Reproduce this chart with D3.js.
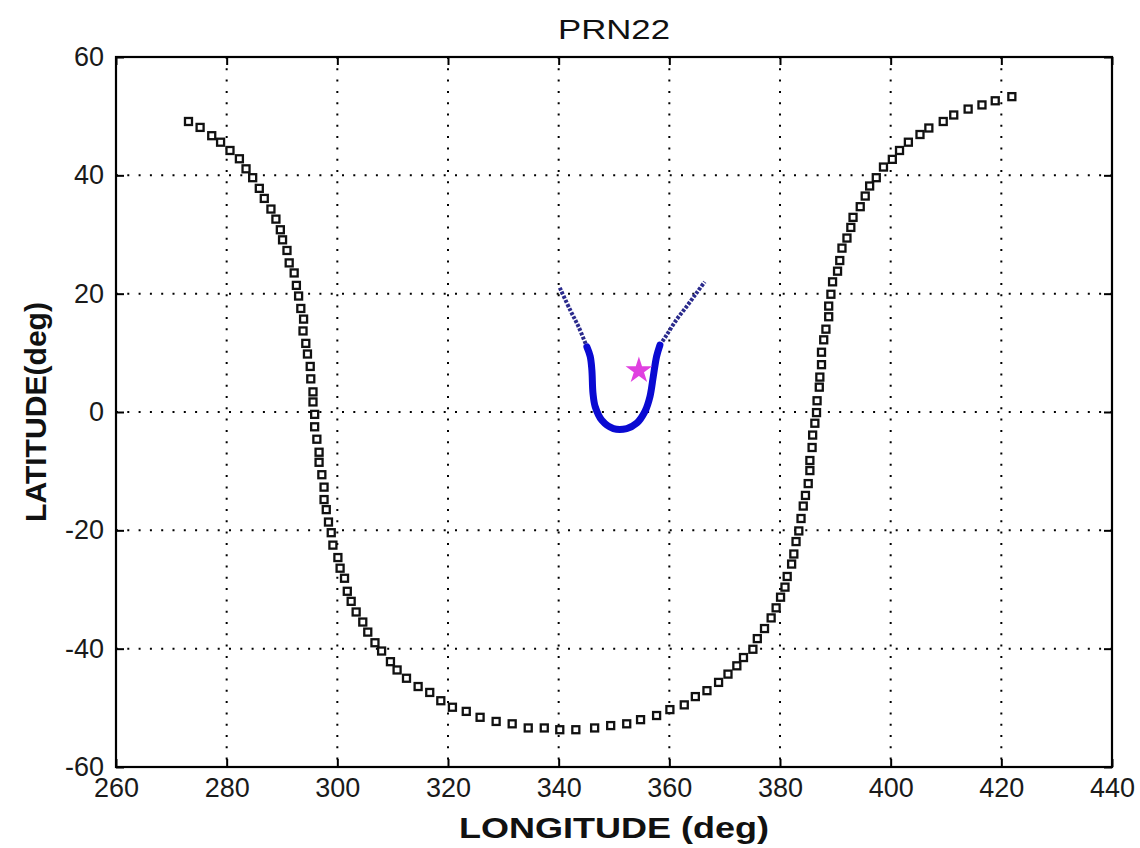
<!DOCTYPE html>
<html>
<head>
<meta charset="utf-8">
<script src="https://cdn.jsdelivr.net/npm/d3@7"></script>
<style>
    html, body { margin: 0; padding: 0; background: #fff; }
    text { font-family: "Liberation Sans", Arial, sans-serif; }
</style>
</head>
<body>
<div id="chart"></div>
<script>
var xTicks = [260, 280, 300, 320, 340, 360, 380, 400, 420, 440];
var yTicks = [-60, -40, -20, 0, 20, 40, 60];

// satellite ground track, [lon, lat]
var orbit = [
    [273.1, 49.1], [275.2, 48.1], [277.3, 46.7], [278.9, 45.6], [280.6, 44.2],
    [282.3, 42.8], [283.5, 41.1], [284.7, 39.6], [285.9, 37.8], [286.8, 36.1],
    [288.0, 34.3], [288.9, 32.6], [289.7, 30.8], [290.1, 29.1], [290.9, 27.3],
    [291.3, 25.2], [292.2, 23.5], [292.6, 21.4], [293.0, 19.6], [293.4, 17.5],
    [293.9, 15.7], [293.8, 13.7], [294.3, 11.6], [294.6, 9.8], [295.1, 7.7],
    [295.2, 5.6], [295.6, 3.4], [295.6, 1.7], [295.9, -0.4], [295.9, -2.5],
    [296.3, -4.6], [296.7, -6.8], [296.7, -8.5], [297.2, -10.6], [297.6, -12.7],
    [297.6, -14.8], [298.0, -16.5], [298.4, -18.6], [298.9, -20.4], [299.2, -22.5],
    [300.1, -24.6], [300.5, -26.4], [301.3, -28.1], [301.8, -30.3], [302.5, -32.0],
    [303.4, -33.8], [304.6, -35.5], [305.5, -37.2], [306.8, -39.0], [308.0, -40.4],
    [309.6, -42.2], [310.8, -43.6], [312.5, -45.0], [314.6, -46.4], [316.7, -47.4],
    [318.7, -48.8], [320.8, -49.9], [323.3, -50.6], [325.8, -51.6], [328.7, -52.3],
    [331.6, -52.7], [334.5, -53.4], [337.4, -53.4], [340.2, -53.7], [343.1, -53.7],
    [346.5, -53.4], [349.4, -53.0], [352.3, -52.7], [354.8, -52.0], [357.7, -51.3],
    [360.1, -50.3], [362.7, -49.5], [364.7, -48.1], [366.8, -47.1], [368.9, -45.7],
    [370.6, -44.3], [372.2, -42.9], [373.4, -41.5], [375.1, -40.1], [375.9, -38.3],
    [377.2, -36.6], [378.4, -34.8], [379.3, -33.1], [380.1, -31.3], [380.9, -29.6],
    [381.3, -27.8], [382.1, -25.7], [382.5, -24.0], [382.9, -21.9], [383.4, -20.1],
    [383.8, -18.0], [384.2, -15.9], [384.6, -14.1], [385.1, -12.1], [385.4, -9.9],
    [385.4, -8.2], [385.8, -6.0], [385.9, -3.9], [386.3, -1.9], [386.6, -0.1],
    [386.7, 1.9], [387.1, 4.2], [387.2, 5.9], [387.5, 8.0], [387.5, 10.1],
    [387.9, 12.2], [388.3, 14.0], [388.8, 16.1], [388.8, 17.9], [389.2, 19.9],
    [389.5, 22.0], [390.4, 23.8], [390.8, 25.6], [391.2, 27.7], [392.1, 29.4],
    [392.8, 31.2], [393.2, 32.9], [394.5, 34.7], [395.4, 36.5], [396.2, 38.2],
    [397.4, 39.6], [398.7, 41.4], [400.3, 42.7], [401.6, 44.2], [403.2, 45.6],
    [405.3, 46.9], [406.9, 48.0], [409.5, 49.1], [411.4, 50.2], [414.0, 51.2],
    [416.5, 51.9], [418.9, 52.6], [421.9, 53.3]
];

// visible pass, split in low-elevation arms and main arc
var armLeft = [[340.2, 21.0], [342.1, 17.2], [343.6, 14.4], [345.1, 11.0]];
var passArc = [
    [345.1, 11.0], [345.7, 9.4], [346.0, 7.1], [346.2, 3.2], [346.6, 0.9],
    [347.8, -1.4], [349.9, -2.8], [352.3, -2.8], [354.1, -1.9], [355.6, 0.1],
    [356.5, 2.6], [357.1, 6.0], [357.7, 9.4], [358.3, 11.3]
];
var armRight = [[358.3, 11.3], [359.5, 13.0], [361.3, 15.6], [363.1, 17.8], [364.9, 20.1], [366.4, 22.0]];
var station = [354.5, 7.0];

var margin = {top: 57, right: 28, bottom: 81, left: 116};

var svg = d3.select('#chart')
    .append('svg')
    .attr('width', 1140)
    .attr('height', 848);

var width = +svg.attr('width') - margin.left - margin.right,
    height = +svg.attr('height') - margin.top - margin.bottom;

var x = d3.scaleLinear().domain([260, 440]).range([0, width]);
var y = d3.scaleLinear().domain([-60, 60]).range([height, 0]);

var g = svg.append('g')
    .attr('transform', 'translate(' + margin.left + ',' + margin.top + ')');

// dotted grid
g.append('g')
    .selectAll('line')
    .data(xTicks.slice(1, -1))
    .enter()
    .append('line')
    .attr('x1', function (d) { return x(d); })
    .attr('x2', function (d) { return x(d); })
    .attr('y1', 0)
    .attr('y2', height)
    .attr('stroke', '#000')
    .attr('stroke-width', 2)
    .attr('stroke-dasharray', '2,9.3');

g.append('g')
    .selectAll('line')
    .data(yTicks.slice(1, -1))
    .enter()
    .append('line')
    .attr('x1', 0)
    .attr('x2', width)
    .attr('y1', function (d) { return y(d); })
    .attr('y2', function (d) { return y(d); })
    .attr('stroke', '#000')
    .attr('stroke-width', 2)
    .attr('stroke-dasharray', '2,9.3');

// axes, ticks pointing inward on all four sides
var tickLen = 8;
var fmt = function (d) { return String(d); };  // plain hyphen for negatives
var axisBottom = g.append('g')
    .attr('transform', 'translate(0,' + height + ')')
    .call(d3.axisBottom(x).tickValues(xTicks).tickSize(-tickLen).tickPadding(11).tickFormat(fmt));
var axisTop = g.append('g')
    .call(d3.axisTop(x).tickValues(xTicks).tickSize(-tickLen).tickFormat(''));
var axisLeft = g.append('g')
    .call(d3.axisLeft(y).tickValues(yTicks).tickSize(-tickLen).tickPadding(12).tickFormat(fmt));
var axisRight = g.append('g')
    .attr('transform', 'translate(' + width + ',0)')
    .call(d3.axisRight(y).tickValues(yTicks).tickSize(-tickLen).tickFormat(''));

[axisBottom, axisTop, axisLeft, axisRight].forEach(function (a) {
    a.select('.domain').remove();
    a.selectAll('.tick line').attr('stroke', '#000').attr('stroke-width', 2);
    a.selectAll('text')
        .attr('fill', '#1a1a1a')
        .attr('font-size', 27)
        .attr('font-family', '"Liberation Sans", Arial, sans-serif');
});

g.append('rect')
    .attr('width', width)
    .attr('height', height)
    .attr('fill', 'none')
    .attr('stroke', '#000')
    .attr('stroke-width', 2.2);

// ground track squares
g.append('g')
    .selectAll('rect')
    .data(orbit)
    .enter()
    .append('rect')
    .attr('x', function (d) { return x(d[0]) - 3.5; })
    .attr('y', function (d) { return y(d[1]) - 3.5; })
    .attr('width', 7)
    .attr('height', 7)
    .attr('fill', '#fff')
    .attr('stroke', '#111')
    .attr('stroke-width', 2.3);

var line = d3.line()
    .x(function (d) { return x(d[0]); })
    .y(function (d) { return y(d[1]); })
    .curve(d3.curveCatmullRom);

[armLeft, armRight].forEach(function (arm) {
    g.append('path')
        .datum(arm)
        .attr('d', line)
        .attr('fill', 'none')
        .attr('stroke', '#2a2a8c')
        .attr('stroke-width', 4)
        .attr('stroke-dasharray', '3,1.5');
});

g.append('path')
    .datum(passArc)
    .attr('d', line)
    .attr('fill', 'none')
    .attr('stroke', '#0a0ad2')
    .attr('stroke-width', 7)
    .attr('stroke-linecap', 'round');

g.append('path')
    .attr('transform', 'translate(' + x(station[0]) + ',' + y(station[1]) + ')')
    .attr('d', d3.symbol().type(d3.symbolStar).size(130)())
    .attr('fill', '#e040e0')
    .attr('stroke', '#e040e0')
    .attr('stroke-width', 2);

// titles
svg.append('text')
    .attr('x', margin.left + width / 2)
    .attr('y', 39)
    .attr('text-anchor', 'middle')
    .attr('font-size', 28)
    .attr('textLength', 112)
    .attr('lengthAdjust', 'spacingAndGlyphs')
    .attr('fill', '#111')
    .text('PRN22');

svg.append('text')
    .attr('x', margin.left + width / 2)
    .attr('y', 838)
    .attr('text-anchor', 'middle')
    .attr('font-size', 29)
    .attr('font-weight', 'bold')
    .attr('textLength', 310)
    .attr('lengthAdjust', 'spacingAndGlyphs')
    .attr('fill', '#111')
    .text('LONGITUDE (deg)');

svg.append('text')
    .attr('transform', 'translate(46,' + (margin.top + height / 2) + ') rotate(-90)')
    .attr('text-anchor', 'middle')
    .attr('font-size', 29)
    .attr('font-weight', 'bold')
    .attr('textLength', 220)
    .attr('lengthAdjust', 'spacingAndGlyphs')
    .attr('fill', '#111')
    .text('LATITUDE(deg)');
</script>
</body>
</html>
